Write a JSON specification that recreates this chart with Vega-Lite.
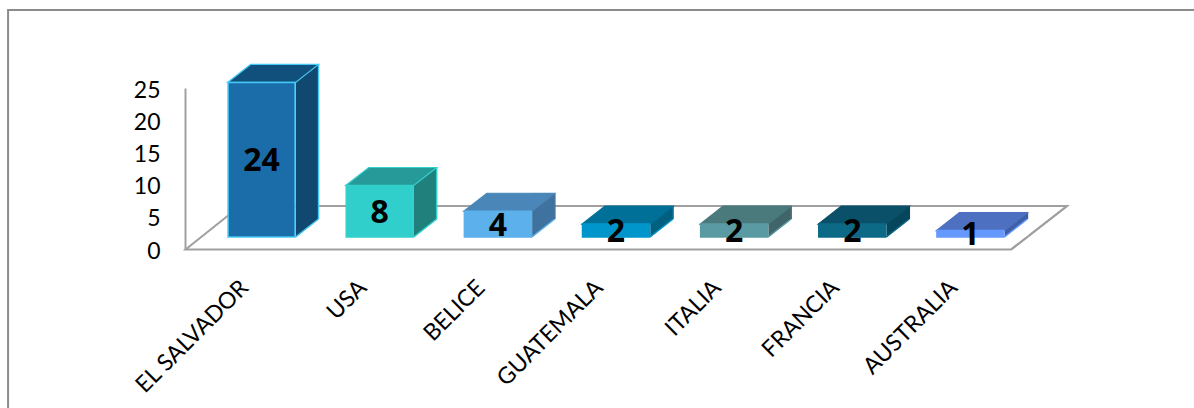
{
  "$schema": "https://vega.github.io/schema/vega-lite/v6.json",
  "autosize": "none",
  "padding": {"left": 185, "top": 88, "right": 182, "bottom": 159},
  "width": 827,
  "height": 161,
  "background": "white",
  "view": {"stroke": null},
  "config": {"font": "Lato"},
  "datasets": {
    "paises": [
      {"pais": "EL SALVADOR", "valor": 24},
      {"pais": "USA", "valor": 8},
      {"pais": "BELICE", "valor": 4},
      {"pais": "GUATEMALA", "valor": 2},
      {"pais": "ITALIA", "valor": 2},
      {"pais": "FRANCIA", "valor": 2},
      {"pais": "AUSTRALIA", "valor": 1}
    ],
    "ancla": [{"pais": "EL SALVADOR", "valor": 0}]
  },
  "data": {"name": "paises"},
  "encoding": {
    "x": {
      "field": "pais", "type": "nominal", "sort": null,
      "scale": {"paddingInner": 0, "paddingOuter": 0},
      "axis": {
        "title": null, "domain": false, "ticks": false, "grid": false,
        "labelAngle": -45, "labelAlign": "right", "labelBaseline": "top",
        "labelFont": "Lato", "labelFontSize": 23, "labelColor": "#000000",
        "labelPadding": 27, "labelOffset": -7, "labelOverlap": false, "labelBound": false, "labelFlush": false, "labelLimit": 300
      }
    },
    "y": {
      "field": "valor", "type": "quantitative",
      "scale": {"domain": [0, 25], "nice": false},
      "axis": {
        "title": null, "values": [0, 5, 10, 15, 20, 25], "grid": false, "ticks": false, "tickSize": 0,
        "domain": true, "domainColor": "#a0a0a0", "domainWidth": 2,
        "labelFont": "Lato", "labelFontSize": 23, "labelColor": "#000000",
        "labelPadding": 25, "labelOffset": 2, "labelFlush": false, "labelOverlap": false, "labelBound": false
      }
    }
  },
  "layer": [
    {
      "data": {"name": "ancla"},
      "mark": {"type": "point", "filled": false, "opacity": 1, "size": 4, "stroke": "#a0a0a0", "strokeWidth": 2,
        "shape": "M-58.5,0.5L767,0.5L823,-43L-4,-43Z"}
    },
    {
      "data": {"name": "ancla"},
      "mark": {"type": "point", "filled": false, "opacity": 1, "size": 4, "stroke": "#8c8c8c", "strokeWidth": 2,
        "shape": "M-236,159L-236,-239L950,-239"}
    },
    {
      "mark": {"type": "bar", "width": 22.5, "xOffset": 63, "yOffset": -30, "y2Offset": -12},
      "encoding": {
        "y2": {"datum": 0},
        "fill": {"field": "pais", "type": "nominal", "sort": null, "legend": null,
          "scale": {"domain": ["EL SALVADOR","USA","BELICE","GUATEMALA","ITALIA","FRANCIA","AUSTRALIA"],
            "range": ["#10486f","#20807c","#3f729e","#006080","#3f6569","#06465c","#3e5fa5"]}}
      }
    },
    {
      "mark": {"type": "point", "filled": true, "opacity": 1, "size": 4, "fill": "white", "yOffset": -12,
        "shape": "M51.5,0.5L75.5,0.5L75.5,-18L74.5,-18Z"},
      "encoding": {"y": {"datum": 0}}
    },
    {
      "data": {"name": "ancla"},
      "mark": {"type": "point", "filled": false, "opacity": 1, "size": 4, "stroke": "#a0a0a0", "strokeWidth": 2,
        "shape": "M767,0.5L823,-43"}
    },
    {
      "mark": {"type": "point", "filled": false, "opacity": 1, "size": 4, "strokeWidth": 1.5, "yOffset": -12,
        "shape": "M51.5,0L74.5,-18"},
      "encoding": {
        "y": {"datum": 0},
        "stroke": {"field": "pais", "type": "nominal", "sort": null, "legend": null,
          "scale": {"domain": ["EL SALVADOR","USA","BELICE","GUATEMALA","ITALIA","FRANCIA","AUSTRALIA"],
            "range": ["#45c8f5","#34d0cc","#5cb1ec","#0096cc","#5a9ba3","#0d6a87","#6699ff"]}}
      }
    },
    {
      "mark": {"type": "rule", "strokeWidth": 1.5, "xOffset": 74.5, "yOffset": -30, "y2Offset": -30},
      "encoding": {
        "y2": {"datum": 0},
        "stroke": {"field": "pais", "type": "nominal", "sort": null, "legend": null,
          "scale": {"domain": ["EL SALVADOR","USA","BELICE","GUATEMALA","ITALIA","FRANCIA","AUSTRALIA"],
            "range": ["#45c8f5","#34d0cc","#3f729e","#006080","#3f6569","#06465c","#3e5fa5"]}}
      }
    },
    {
      "mark": {"type": "point", "filled": true, "opacity": 1, "size": 4, "strokeWidth": 1.2, "yOffset": -12,
        "shape": "M-16.5,0L51.5,0L74.5,-18L6.5,-18Z"},
      "encoding": {
        "fill": {"field": "pais", "type": "nominal", "sort": null, "legend": null,
          "scale": {"domain": ["EL SALVADOR","USA","BELICE","GUATEMALA","ITALIA","FRANCIA","AUSTRALIA"],
            "range": ["#11507d","#269a98","#4a86b8","#007098","#4a7a7c","#0a5068","#4d70c0"]}},
        "stroke": {"field": "pais", "type": "nominal", "sort": null, "legend": null,
          "scale": {"domain": ["EL SALVADOR","USA","BELICE","GUATEMALA","ITALIA","FRANCIA","AUSTRALIA"],
            "range": ["#45c8f5","#34d0cc","#4a86b8","#007098","#4a7a7c","#0a5068","#4d70c0"]}}
      }
    },
    {
      "mark": {"type": "bar", "width": 67, "xOffset": 17.5, "yOffset": -12, "y2Offset": -12, "strokeWidth": 1.5},
      "encoding": {
        "y2": {"datum": 0},
        "fill": {"field": "pais", "type": "nominal", "sort": null, "legend": null,
          "scale": {"domain": ["EL SALVADOR","USA","BELICE","GUATEMALA","ITALIA","FRANCIA","AUSTRALIA"],
            "range": ["#1a6da8","#30cfcc","#5cb1ec","#0096cc","#5a9ba3","#0d6a87","#6699ff"]}},
        "stroke": {"field": "pais", "type": "nominal", "sort": null, "legend": null,
          "scale": {"domain": ["EL SALVADOR","USA","BELICE","GUATEMALA","ITALIA","FRANCIA","AUSTRALIA"],
            "range": ["#45c8f5","#34d0cc","#5cb1ec","#0096cc","#5a9ba3","#0d6a87","#6699ff"]}}
      }
    },
    {
      "mark": {"type": "text", "font": "Open Sans", "fontWeight": "bold", "fontSize": 32, "color": "#000000", "xOffset": 17.5, "yOffset": -10.5, "baseline": "middle", "align": "center"},
      "encoding": {
        "y": {"field": "valor", "type": "quantitative", "stack": "zero", "bandPosition": 0.5, "scale": {"domain": [0, 25], "nice": false}},
        "text": {"field": "valor", "type": "quantitative"}
      }
    }
  ],
  "resolve": {"scale": {"fill": "independent", "stroke": "independent"}}
}
